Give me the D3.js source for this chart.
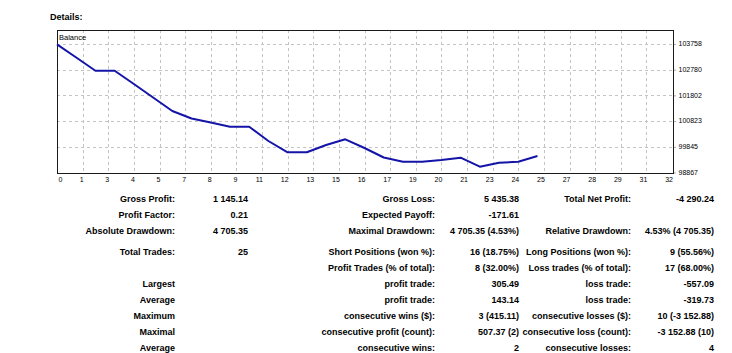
<!DOCTYPE html>
<html lang="en">
<head>
<meta charset="UTF-8">
<title>Details</title>
<script src="https://cdn.jsdelivr.net/npm/d3@7"></script>
<style>
    body { margin: 0; background: #fff; }
    svg text { font-family: "Liberation Sans", Arial, sans-serif; fill: #000; }
    .axis path { display: none; }
    .axis line { stroke: #555; }
    .axis text { font-size: 7px; }
    .stat { font-size: 9px; font-weight: bold; }
</style>
</head>
<body>
<script>
    // balance after each trade (trade 0 = start)
    var trades = d3.range(0, 26)
    var balance = [103746, 103244, 102741, 102741, 102235, 101722, 101208, 100922, 100770, 100610,
                   100610, 100066, 99636, 99636, 99914, 100131, 99799, 99438, 99278, 99278,
                   99343, 99430, 99088, 99240, 99278, 99495]

    // axis labels as printed on the chart
    var xTickLabels = ["0", "1", "3", "4", "5", "7", "8", "9", "11", "12", "13", "15", "16",
                       "17", "19", "20", "21", "23", "24", "25", "27", "28", "29", "31", "32"]
    var yTickLabels = [98867, 99845, 100823, 101802, 102780, 103758]

    // report table, one array per column: [label, value]
    var col1 = [["Gross Profit:", "1 145.14"], ["Profit Factor:", "0.21"], ["Absolute Drawdown:", "4 705.35"],
                ["Total Trades:", "25"], ["", ""], ["Largest", ""], ["Average", ""],
                ["Maximum", ""], ["Maximal", ""], ["Average", ""]]
    var col2 = [["Gross Loss:", "5 435.38"], ["Expected Payoff:", "-171.61"], ["Maximal Drawdown:", "4 705.35 (4.53%)"],
                ["Short Positions (won %):", "16 (18.75%)"], ["Profit Trades (% of total):", "8 (32.00%)"],
                ["profit trade:", "305.49"], ["profit trade:", "143.14"], ["consecutive wins ($):", "3 (415.11)"],
                ["consecutive profit (count):", "507.37 (2)"], ["consecutive wins:", "2"]]
    var col3 = [["Total Net Profit:", "-4 290.24"], ["", ""], ["Relative Drawdown:", "4.53% (4 705.35)"],
                ["Long Positions (won %):", "9 (55.56%)"], ["Loss trades (% of total):", "17 (68.00%)"],
                ["loss trade:", "-557.09"], ["loss trade:", "-319.73"], ["consecutive losses ($):", "10 (-3 152.88)"],
                ["consecutive loss (count):", "-3 152.88 (10)"], ["consecutive losses:", "4"]]

    var width = 732, height = 353
    // plot box (window.top is reserved, so prefix these)
    var pLeft = 57, pRight = 672, pTop = 30, pBottom = 173

    var svg = d3.select("body").append("svg")
        .attr("width", width)
        .attr("height", height)

    svg.append("text")
        .attr("x", 50).attr("y", 19.5)
        .attr("class", "stat")
        .text("Details:")

    var x = d3.scaleLinear().domain([0, 32]).range([pLeft, pRight])
    var y = d3.scaleLinear().domain([98867, 103758]).range([172.5, 44])

    // grid positions: labels are spread evenly over 0..32
    var xGrid = xTickLabels.map(function(d, i) { return i * 32 / (xTickLabels.length - 1) })

    var grid = svg.append("g").attr("stroke", "#c4c4c4").attr("stroke-dasharray", "3,3")
    grid.selectAll(".vx").data(xGrid.slice(1, -1)).enter().append("line")
        .attr("x1", function(d) { return Math.round(x(d)) + 0.5 })
        .attr("x2", function(d) { return Math.round(x(d)) + 0.5 })
        .attr("y1", pTop).attr("y2", pBottom)
    grid.selectAll(".hy").data(yTickLabels.slice(1)).enter().append("line")
        .attr("y1", function(d) { return Math.round(y(d)) + 0.5 })
        .attr("y2", function(d) { return Math.round(y(d)) + 0.5 })
        .attr("x1", pLeft).attr("x2", pRight + 1)

    // frame
    svg.append("rect")
        .attr("x", pLeft + 0.5).attr("y", pTop + 0.5)
        .attr("width", pRight - pLeft + 1).attr("height", pBottom - pTop)
        .attr("fill", "none").attr("stroke", "#1a1a1a")

    svg.append("text")
        .attr("x", 59).attr("y", 40)
        .style("font-size", "7.5px")
        .text("Balance")

    var line = d3.line()
        .x(function(d, i) { return x(trades[i]) })
        .y(function(d) { return y(d) })

    svg.append("path")
        .datum(balance)
        .attr("d", line)
        .attr("fill", "none")
        .attr("stroke", "#1414a8")
        .attr("stroke-width", 2)
        .attr("stroke-linejoin", "round")

    var xAxis = d3.axisBottom(x)
        .tickValues(xGrid)
        .tickSize(0)
        .tickPadding(4)
        .tickFormat(function(d, i) { return xTickLabels[i] })

    svg.append("g")
        .attr("class", "axis")
        .attr("transform", "translate(0," + (pBottom + 0.5) + ")")
        .call(xAxis)
        .selectAll("text")
        .attr("text-anchor", function(d, i) { return i === 0 ? "start" : "end" })
        .attr("dx", function(d, i) { return i === 0 ? 1 : 0.5 })

    var yAxis = d3.axisRight(y)
        .tickValues(yTickLabels)
        .tickSize(1)
        .tickPadding(3)
        .tickFormat(function(d) { return d })

    svg.append("g")
        .attr("class", "axis")
        .attr("transform", "translate(" + (pRight + 2.5) + ",0)")
        .call(yAxis)
        .selectAll("text")
        .attr("dy", "0.25em")

    // table
    function rowY(i) { return 199 + i * 15.9 + (i >= 3 ? 5.2 : 0) + 3.2 }

    var columns = [
        { rows: col1, labelX: 175, valueX: 248 },
        { rows: col2, labelX: 435, valueX: 519 },
        { rows: col3, labelX: 631, valueX: 714 }
    ]

    columns.forEach(function(c) {
        var g = svg.append("g").attr("class", "stat")
        g.selectAll(".lab").data(c.rows).enter().append("text")
            .attr("x", c.labelX).attr("y", function(d, i) { return rowY(i) })
            .attr("text-anchor", "end")
            .text(function(d) { return d[0] })
        g.selectAll(".val").data(c.rows).enter().append("text")
            .attr("x", c.valueX).attr("y", function(d, i) { return rowY(i) })
            .attr("text-anchor", "end")
            .text(function(d) { return d[1] })
    })
</script>
</body>
</html>
